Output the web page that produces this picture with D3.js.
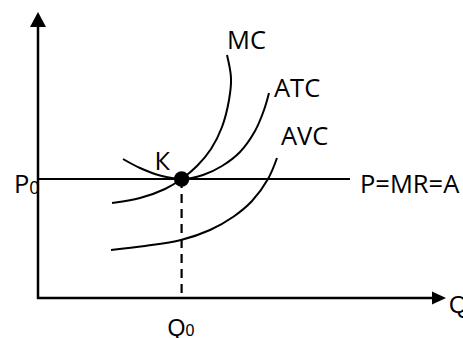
<!DOCTYPE html>
<html>
<head>
<meta charset="utf-8">
<script src="https://cdn.jsdelivr.net/npm/d3@7"></script>
<style>
  html, body { margin: 0; padding: 0; background: #fff; }
  svg { display: block; }
</style>
</head>
<body>
<svg id="chart" width="463" height="338"></svg>
<script>
// ---- data (economic units, 0..100 on each axis) ----
const Q0 = 35.9;          // equilibrium quantity
const P0 = 47.6;          // market price
const priceLineEnd = 78;  // length of P=MR=A line
const xAxisMax = 102;
const yAxisMax = 114.4;

const mcQ  = [18.5, 25.5, 31.75, 35.9, 39.75, 43.25, 46, 47.75, 48.25, 47.25];
const mcC  = [38, 40, 43.6, 47.6, 52.8, 59.6, 68.4, 79.2, 88, 97.2];

const atcQ = [21.25, 25.5, 30.5, 35.9, 41.25, 46, 50.5, 54.25, 56.5, 57.75];
const atcC = [55.6, 52, 49, 47.6, 49.2, 52.8, 58.4, 66.8, 75.2, 82];

const avcQ = [18.25, 26.75, 35.75, 43, 48.75, 53.5, 57.5, 59.75];
const avcC = [19.2, 20.8, 23.2, 27.2, 32.4, 38.8, 47.6, 56];

const curveNames = ["MC", "ATC", "AVC"];
const priceLabel = "P=MR=A";
const pointLabel = "К";
const xAxisLabel = "Q";

// ---- drawing ----
const svg = d3.select("#chart");
const x = d3.scaleLinear().domain([0, 100]).range([38, 438]);
const y = d3.scaleLinear().domain([0, 100]).range([298, 48]);

const line = d3.line().x(d => x(d[0])).y(d => y(d[1])).curve(d3.curveCatmullRom.alpha(0.5));
const zip = (a, b) => a.map((v, i) => [v, b[i]]);

// axes
const ax0 = x(0), ay0 = y(0);
const yTip = y(yAxisMax), xTip = x(xAxisMax);
svg.append("line").attr("x1", ax0).attr("y1", ay0 + 1).attr("x2", ax0).attr("y2", yTip + 12)
  .attr("stroke", "#000").attr("stroke-width", 2.5);
svg.append("path").attr("d", `M${ax0},${yTip} L${ax0 - 8},${yTip + 15} L${ax0 + 8},${yTip + 15} Z`).attr("fill", "#000");
svg.append("line").attr("x1", ax0 - 1).attr("y1", ay0).attr("x2", xTip - 12).attr("y2", ay0)
  .attr("stroke", "#000").attr("stroke-width", 2.5);
svg.append("path").attr("d", `M${xTip},${ay0} L${xTip - 14},${ay0 - 6.5} L${xTip - 14},${ay0 + 6.5} Z`).attr("fill", "#000");

// price line
svg.append("line").attr("x1", x(0)).attr("x2", x(priceLineEnd)).attr("y1", y(P0)).attr("y2", y(P0))
  .attr("stroke", "#000").attr("stroke-width", 2);

// dashed Q0 line
svg.append("line").attr("x1", x(Q0)).attr("x2", x(Q0)).attr("y1", y(P0)).attr("y2", y(0))
  .attr("stroke", "#000").attr("stroke-width", 2.2).attr("stroke-dasharray", "9,6");

// curves
const curves = [zip(mcQ, mcC), zip(atcQ, atcC), zip(avcQ, avcC)];
svg.selectAll("path.curve").data(curves).enter().append("path")
  .attr("class", "curve").attr("d", line)
  .attr("fill", "none").attr("stroke", "#000").attr("stroke-width", 2);

// equilibrium point
svg.append("circle").attr("cx", x(Q0)).attr("cy", y(P0)).attr("r", 7.7).attr("fill", "#000");

const font = "'Open Sans', 'Noto Sans', sans-serif";
const font2 = "'Liberation Sans', Arial, sans-serif";
const fs = 25.5;

// curve labels (offsets from curve tops)
const labelOffsets = [[0, -6], [5, 4], [4, -13]];
curves.forEach((c, i) => {
  const end = c[c.length - 1];
  svg.append("text").attr("x", x(end[0]) + labelOffsets[i][0]).attr("y", y(end[1]) + labelOffsets[i][1])
    .attr("font-family", font).attr("font-size", fs).text(curveNames[i]);
});

// point label
svg.append("text").attr("x", x(Q0) - 27).attr("y", y(P0) - 9)
  .attr("font-family", font).attr("font-size", fs).text(pointLabel);

// price label
svg.append("text").attr("x", x(priceLineEnd) + 10).attr("y", y(P0) + 14)
  .attr("font-family", font).attr("font-size", fs).text(priceLabel);

// P0
const p0 = svg.append("text").attr("x", 14).attr("y", y(P0) + 14)
  .attr("font-family", font).attr("font-size", fs);
p0.append("tspan").text("P");
p0.append("tspan").attr("font-size", 18).attr("dy", 1).text("0");

// Q0
const q0 = svg.append("text").attr("x", x(Q0) - 14).attr("y", 336)
  .attr("font-family", font2).attr("font-size", 23);
q0.append("tspan").text("Q");
q0.append("tspan").attr("font-size", 16).text("0");

// x-axis label
svg.append("text").attr("x", xTip + 3).attr("y", ay0 + 15)
  .attr("font-family", font2).attr("font-size", 24).text(xAxisLabel);
</script>
</body>
</html>
